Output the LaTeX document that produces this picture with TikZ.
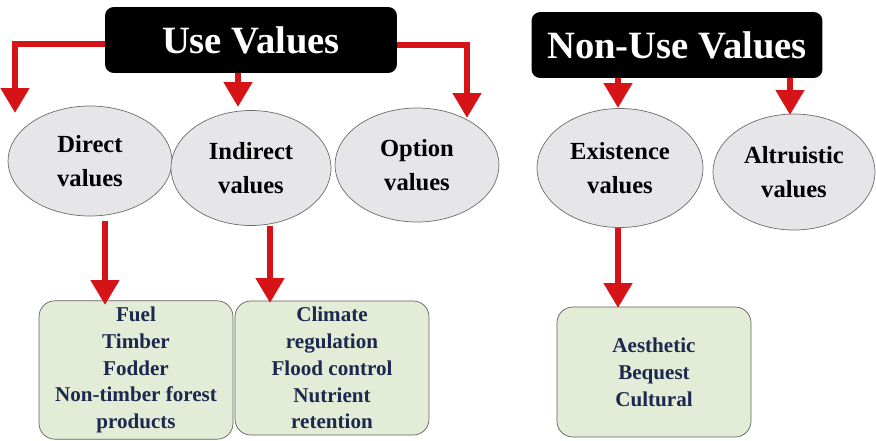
\documentclass[tikz,border=0pt]{standalone}
\usepackage{fontspec}
\setmainfont{Liberation Serif}[BoldFont={Liberation Serif Bold}]
\usetikzlibrary{positioning,shapes.geometric,arrows.meta}
\definecolor{arrowred}{RGB}{214,20,24}
\definecolor{ovalgray}{RGB}{230,230,232}
\definecolor{boxgreen}{RGB}{226,236,214}
\definecolor{textnavy}{RGB}{28,40,78}

\begin{document}
\begin{tikzpicture}[x=0.02cm, y=-0.02cm,
  headnode/.style={rectangle, rounded corners=5pt, fill=black, text=white, minimum height=1.32cm, font=\fontsize{22}{26}\selectfont\bfseries},
  ovalnode/.style={ellipse, draw=gray!85!black, fill=ovalgray, align=center, inner sep=0pt, font=\fontsize{14}{19}\selectfont\bfseries},
  listnode/.style={rectangle, rounded corners=9pt, draw=gray!75!black, fill=boxgreen, text=textnavy, align=center, minimum width=3.88cm, minimum height=2.6cm, font=\fontsize{12}{15.3}\selectfont\bfseries},
  redarrow/.style={draw=arrowred, line width=3.5pt, -{Triangle[width=0.55cm,length=0.5cm]}}]
  \useasboundingbox (0,0) rectangle (876,440);

  % headers
  \node[headnode, minimum width=5.84cm] (use) at (251,40) {Use Values};
  \node[headnode, minimum width=5.82cm] (nonuse) at (677,45) {Non-Use Values};

  % value ovals
  \node[ovalnode, minimum width=3.28cm, minimum height=2.2cm] (direct) at (90,161) {Direct\\values};
  \node[ovalnode, minimum width=3.2cm, minimum height=2.3cm] (indirect) at (251,168) {Indirect\\values};
  \node[ovalnode, minimum width=3.28cm, minimum height=2.28cm] (option) at (417,165) {Option\\values};
  \node[ovalnode, minimum width=3.32cm, minimum height=2.38cm] (exist) at (620,168) {Existence\\values};
  \node[ovalnode, minimum width=3.24cm, minimum height=2.32cm] (altru) at (794,172) {Altruistic\\values};

  % example boxes
  \node[listnode] (directlist) at (136,370) {Fuel\\Timber\\Fodder\\Non-timber forest\\products};
  \node[listnode] (indirectlist) at (332,368) {Climate\\regulation\\Flood control\\Nutrient\\retention};
  \node[listnode] (existlist) at (654,372) {Aesthetic\\Bequest\\Cultural};

  % arrow tips
  \coordinate (directtip) at (15,113);
  \coordinate (indirecttip) at (238,107);
  \coordinate (optiontip) at (467,118);
  \coordinate (existtip) at (618,108);
  \coordinate (altrutip) at (790,115);
  \coordinate (fueltip) at (105,305);
  \coordinate (climatetip) at (270,303);
  \coordinate (aesthtip) at (618,308);

  \draw[redarrow] ([yshift=-0.08cm]use.west) -| (directtip);
  \draw[redarrow] (use.south -| indirecttip) -- (indirecttip);
  \draw[redarrow] ([yshift=-0.1cm]use.east) -| (optiontip);
  \draw[redarrow] (nonuse.south -| existtip) -- (existtip);
  \draw[redarrow] (nonuse.south -| altrutip) -- (altrutip);
  \draw[redarrow] ([yshift=-0.1cm]direct.south -| fueltip) -- (fueltip);
  \draw[redarrow] (indirect.south -| climatetip) -- (climatetip);
  \draw[redarrow] (exist.south -| aesthtip) -- (aesthtip);
\end{tikzpicture}
\end{document}
